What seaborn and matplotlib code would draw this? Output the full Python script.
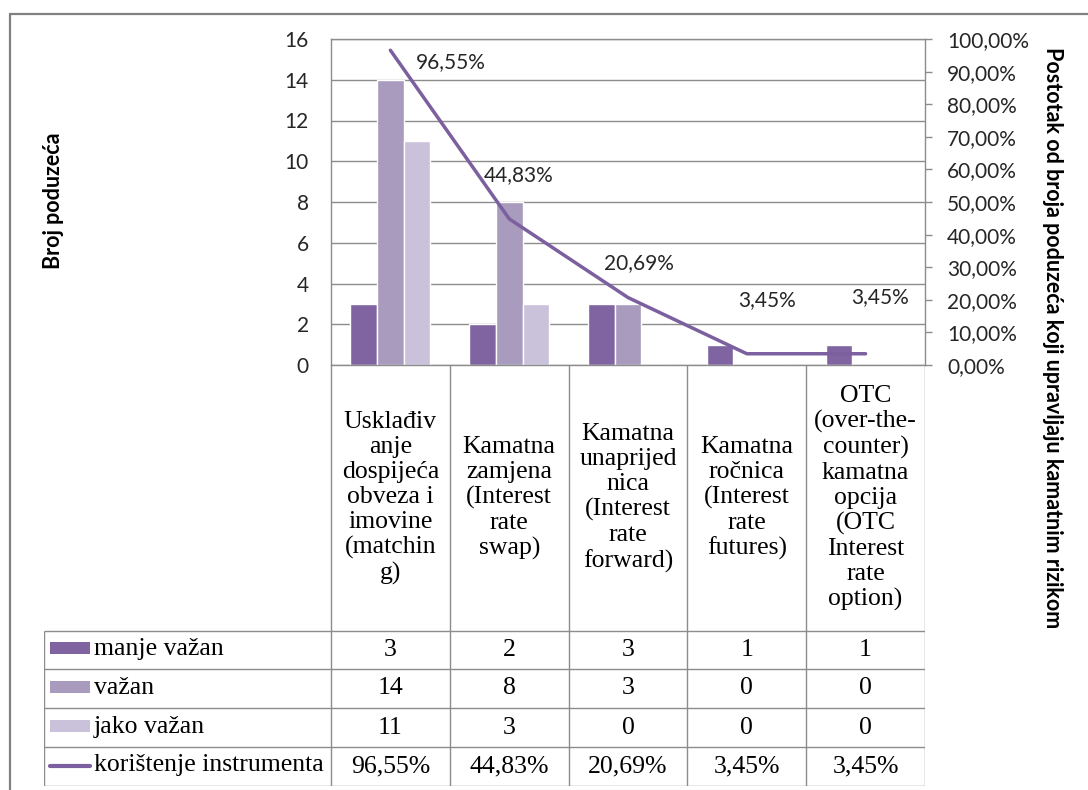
import numpy as np
import pandas as pd
import matplotlib
matplotlib.use("Agg")
import matplotlib.pyplot as plt
from matplotlib.ticker import FuncFormatter
from matplotlib.patches import Rectangle
from matplotlib.lines import Line2D
import seaborn as sns

# ---- data -------------------------------------------------------------
instruments = [
    "Usklađiv\nanje\ndospijeća\nobveza i\nimovine\n(matchin\ng)",
    "Kamatna\nzamjena\n(Interest\nrate\nswap)",
    "Kamatna\nunaprijed\nnica\n(Interest\nrate\nforward)",
    "Kamatna\nročnica\n(Interest\nrate\nfutures)",
    "OTC\n(over-the-\ncounter)\nkamatna\nopcija\n(OTC\nInterest\nrate\noption)",
]
importance_levels = ["manje važan", "važan", "jako važan"]
manje_vazan = [3, 2, 3, 1, 1]
vazan = [14, 8, 3, 0, 0]
jako_vazan = [11, 3, 0, 0, 0]
koristenje = [96.55, 44.83, 20.69, 3.45, 3.45]
line_name = "korištenje instrumenta"
left_title = "Broj poduzeća"
right_title = "Postotak od broja poduzeća koji upravljaju kamatnim rizikom"
count_ticks = list(range(0, 17, 2))
pct_ticks = [i / 10 for i in range(11)]

# ---- styling ----------------------------------------------------------
bar_colors = ["#8064A2", "#A89BBE", "#CAC1DA"]
line_color = "#7B5F9F"
grid_color = "#8C8C8C"
text_color = "#262626"
sans = "Lato"
serif = "Liberation Serif"
tick_size = 15
table_size = 18.5

sns.set_theme(style="white")
plt.rcParams["font.family"] = [sans, "DejaVu Sans"]

W, H = 1088, 790
fig = plt.figure(figsize=(W / 100, H / 100), dpi=100)
fig.patch.set_facecolor("white")

# plot area in pixels
px_l, px_r, px_t, px_b = 331, 925, 39, 365
ax = fig.add_axes([px_l / W, 1 - px_b / H, (px_r - px_l) / W, (px_b - px_t) / H])

long_df = pd.DataFrame({
    "instrument": np.repeat(instruments, 3),
    "vaznost": importance_levels * len(instruments),
    "broj": np.column_stack([manje_vazan, vazan, jako_vazan]).ravel(),
})

sns.barplot(data=long_df, x="instrument", y="broj", hue="vaznost",
            order=instruments, hue_order=importance_levels,
            palette=bar_colors, saturation=1, width=0.673, gap=0,
            legend=False, ax=ax, zorder=2)

ax.set_xlim(-0.5, len(instruments) - 0.5)
ax.set_ylim(0, 16)
ax.set_yticks(count_ticks)
ax.set_xticks([])
ax.set_xlabel("")
ax.set_ylabel("")
ax.yaxis.grid(True, color=grid_color, lw=1.0)
ax.set_axisbelow(True)
ax.tick_params(axis="y", length=0, pad=16, labelsize=tick_size, labelcolor=text_color)
for s in ax.spines.values():
    s.set_color(grid_color)
    s.set_linewidth(1.0)
ax.spines["right"].set_visible(False)

# percentage line on secondary axis
ax2 = ax.twinx()
x_pos = np.arange(len(instruments))
pct = np.array(koristenje) / 100
sns.lineplot(x=x_pos, y=pct, ax=ax2, color=line_color, lw=2.5,
             legend=False, solid_capstyle="round")
ax2.set_ylim(0, 1)
ax2.set_yticks(pct_ticks)
ax2.yaxis.set_major_formatter(FuncFormatter(lambda v, p: f"{v * 100:.2f}%".replace(".", ",")))
ax2.tick_params(axis="y", length=5, width=1.0, color=grid_color, pad=11,
                labelsize=tick_size, labelcolor=text_color, direction="out")
ax2.set_ylabel("")
for s in ax2.spines.values():
    s.set_visible(False)
ax2.spines["right"].set_visible(True)
ax2.spines["right"].set_color(grid_color)
ax2.spines["right"].set_linewidth(1.0)

# data labels next to the line points (pixel offsets)
label_offsets = [(60, -12), (9, 44), (11, 34), (20, 54), (14, 57)]
for xi, v, off in zip(x_pos, koristenje, label_offsets):
    ax2.annotate(f"{v:.2f}%".replace(".", ","), (xi, v / 100),
                 xytext=off, textcoords="offset pixels",
                 ha="center", va="center", fontsize=tick_size, color=text_color)

# axis titles
fig.text(54 / W, 1 - 201 / H, left_title, rotation=90, ha="center", va="center",
         fontsize=15.5, fontweight="bold", color="black")
fig.text(1053 / W, 1 - 338 / H, right_title, rotation=-90, ha="center", va="center",
         fontsize=15.5, fontweight="bold", color="black")

# ---- data table below the plot ---------------------------------------
col_w = (px_r - px_l) / len(instruments)
tbl_l, tbl_b = 44, 786
x_left = -0.5 - (px_l - tbl_l) / col_w
tab = fig.add_axes([tbl_l / W, 1 - tbl_b / H, (px_r - tbl_l) / W, (tbl_b - px_b) / H])
tab.set_xlim(x_left, len(instruments) - 0.5)
tab.set_ylim(0, tbl_b - px_b)
tab.axis("off")

row_tops = [155, 117, 78, 39, 0]
x_right = len(instruments) - 0.5
lkw = dict(color=grid_color, lw=1.0, solid_capstyle="butt")
for yv in row_tops:
    tab.plot([x_left, x_right], [yv, yv], **lkw)
tab.plot([x_left, x_left], [0, row_tops[0]], **lkw)
for xb in np.arange(-0.5, len(instruments), 1.0):
    tab.plot([xb, xb], [0, tbl_b - px_b], **lkw)

# category labels
cat_mid = (tbl_b - px_b + row_tops[0]) / 2
for xi, name in enumerate(instruments):
    tab.text(xi, cat_mid, name, ha="center", va="center", fontsize=table_size,
             family=serif, color="black", linespacing=1.17)

# value rows
rows = [manje_vazan, vazan, jako_vazan]
row_text = [[str(v) for v in r] for r in rows]
row_text.append([f"{v:.2f}%".replace(".", ",") for v in koristenje])
row_names = importance_levels + [line_name]
sw_x0 = x_left + 6 / col_w
sw_w = 40 / col_w
for ri, (name, vals) in enumerate(zip(row_names, row_text)):
    yc = (row_tops[ri] + row_tops[ri + 1]) / 2
    for xi, t in enumerate(vals):
        tab.text(xi, yc, t, ha="center", va="center", fontsize=table_size,
                 family=serif, color="black")
    if ri < 3:
        tab.add_patch(Rectangle((sw_x0, yc - 4), sw_w, 12,
                                color=bar_colors[ri], lw=0))
    else:
        tab.plot([sw_x0, sw_x0 + sw_w], [yc + 1, yc + 1], color=line_color,
                 lw=3.0, solid_capstyle="round")
    tab.text(sw_x0 + sw_w + 4 / col_w, yc + 1, name, ha="left", va="center",
             fontsize=table_size, family=serif, color="black")

# chart frame
fig.add_artist(Line2D([9.5 / W, 9.5 / W], [0, 1 - 13.5 / H], color="#808080", lw=1.6,
                      transform=fig.transFigure))
fig.add_artist(Line2D([9.5 / W, 1], [1 - 13.5 / H, 1 - 13.5 / H], color="#808080", lw=1.6,
                      transform=fig.transFigure))

fig.savefig("out.png", dpi=100, facecolor="white")
